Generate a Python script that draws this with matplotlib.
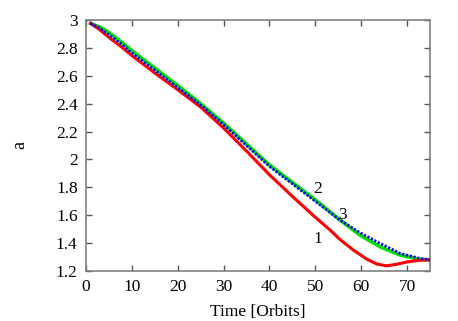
import numpy as np
import matplotlib
matplotlib.use('Agg')
import matplotlib.pyplot as plt
from matplotlib.ticker import FormatStrFormatter

# curve 1 (red)
t1 = [1, 3, 5, 8, 10, 15, 20, 25, 30, 35, 40, 45, 50, 53, 55.4, 58.3, 61.2, 63.4, 65.5, 67.7, 70, 72.8, 75]
a1 = [2.975, 2.93, 2.875, 2.80, 2.745, 2.62, 2.50, 2.375, 2.225, 2.06, 1.89, 1.735, 1.585, 1.50, 1.425,
      1.35, 1.285, 1.25, 1.237, 1.248, 1.265, 1.277, 1.28]

# curve 2 (green)
t2 = [1, 3, 5, 8, 10, 15, 20, 25, 30, 35, 40, 45, 50, 55.4, 59.7, 64.1, 68.5, 72.8, 75]
a2 = [2.975, 2.95, 2.91, 2.835, 2.78, 2.655, 2.53, 2.40, 2.26, 2.11, 1.96, 1.835, 1.71, 1.565,
      1.458, 1.374, 1.314, 1.283, 1.28]

# curve 3 (blue, dotted)
t3 = [1, 3, 5, 8, 10, 15, 20, 25, 30, 35, 40, 45, 50, 55.4, 59.7, 64.1, 68.5, 72.8, 75]
a3 = [2.975, 2.94, 2.895, 2.82, 2.763, 2.64, 2.515, 2.39, 2.25, 2.10, 1.95, 1.825, 1.70, 1.565,
      1.475, 1.398, 1.326, 1.29, 1.28]

labels = ['1', '2', '3']
label_pos = [(50.6, 1.43), (50.6, 1.79), (56.0, 1.60)]

plt.rcParams['font.family'] = ['Liberation Serif', 'DejaVu Serif']
plt.rcParams['font.size'] = 12.5

fig = plt.figure(figsize=(4.58, 3.21), dpi=100)
ax = fig.add_axes([0.1878, 0.1558, 0.7511, 0.7819])

ax.plot(t2, a2, color='#00e000', lw=2.6, zorder=2)
ax.plot(t1, a1, color='#ff0000', lw=2.2, zorder=3)
ax.plot(t3, a3, color='#0000ff', lw=2.0, ls=(0, (0.8, 0.6)), zorder=4)

for lab, (x, y) in zip(labels, label_pos):
    ax.text(x, y, lab, ha='center', va='center', fontsize=12.5)

ax.set_xlim(0, 75)
ax.set_ylim(1.2, 3.0)
ax.set_xticks(np.arange(0, 71, 10))
ax.set_yticks(np.arange(1.2, 3.01, 0.2))
ax.yaxis.set_major_formatter(FormatStrFormatter('%g'))
ax.tick_params(direction='in', top=True, right=True, length=4, width=1,
               color='#555555', pad=6)
for s in ax.spines.values():
    s.set_color('#808080')
    s.set_linewidth(1.2)

ax.set_xlabel('Time [Orbits]', labelpad=6)
ax.set_ylabel('a', rotation=90, labelpad=20, fontsize=13)

fig.savefig('out.png', dpi=100)
